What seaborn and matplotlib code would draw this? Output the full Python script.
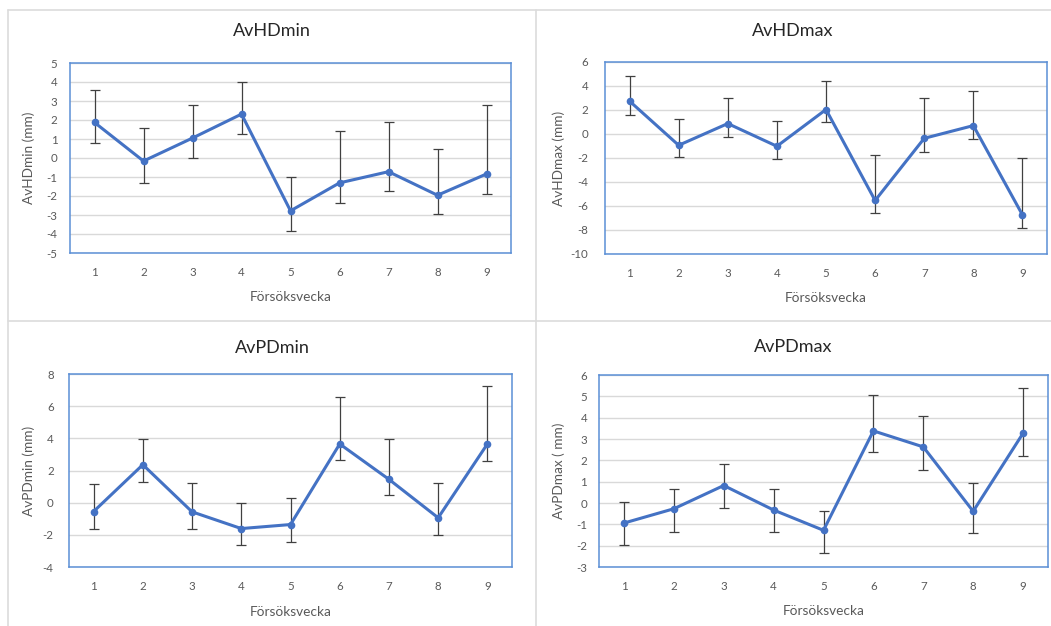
import numpy as np
import pandas as pd
import matplotlib
matplotlib.use("Agg")
import matplotlib.pyplot as plt
from matplotlib.lines import Line2D
import seaborn as sns

# Försöksvecka (trial week)
weeks = [1, 2, 3, 4, 5, 6, 7, 8, 9]

# AvHDmin: mean, upper and lower ends of the error bars (mm)
hdmin_mean = [1.87, -0.16, 1.05, 2.31, -2.78, -1.31, -0.72, -1.96, -0.84]
hdmin_hi = [3.57, 1.56, 2.80, 4.00, -1.00, 1.42, 1.87, 0.47, 2.81]
hdmin_lo = [0.77, -1.29, 0.02, 1.24, -3.83, -2.38, -1.75, -2.97, -1.90]

# AvHDmax
hdmax_mean = [2.74, -0.94, 0.87, -1.02, 2.04, -5.54, -0.36, 0.70, -6.74]
hdmax_hi = [4.83, 1.21, 2.96, 1.12, 4.44, -1.72, 2.96, 3.57, -1.97]
hdmax_lo = [1.60, -1.94, -0.27, -2.05, 0.98, -6.60, -1.47, -0.44, -7.85]

# AvPDmin
pdmin_mean = [-0.55, 2.36, -0.57, -1.61, -1.36, 3.65, 1.45, -0.94, 3.65]
pdmin_hi = [1.14, 3.94, 1.20, 0.01, 0.26, 6.60, 3.94, 1.20, 7.23]
pdmin_lo = [-1.63, 1.30, -1.63, -2.65, -2.44, 2.63, 0.47, -2.02, 2.57]

# AvPDmax
pdmax_mean = [-0.94, -0.27, 0.82, -0.33, -1.28, 3.38, 2.63, -0.39, 3.27]
pdmax_hi = [0.03, 0.67, 1.82, 0.65, -0.38, 5.06, 4.06, 0.93, 5.37]
pdmax_lo = [-1.95, -1.35, -0.24, -1.35, -2.36, 2.37, 1.55, -1.41, 2.22]

titles = ["AvHDmin", "AvHDmax", "AvPDmin", "AvPDmax"]
ylabels = ["AvHDmin (mm)", "AvHDmax (mm)", "AvPDmin (mm)", "AvPDmax ( mm)"]
xlabel = "Försöksvecka"

sns.set_theme(style="white")
plt.rcParams["font.family"] = ["Lato", "DejaVu Sans"]
plt.rcParams["axes.unicode_minus"] = False

W, H = 1051, 626
fig = plt.figure(figsize=(W / 100, H / 100), dpi=100)
fig.patch.set_facecolor("white")

LINE = "#4472C4"
BORDER = "#5B8FD6"
GRID = "#D9D9D9"
TXT = "#595959"
ERR = "#404040"

# panel specs: series, y range, y step, plot box in pixels (l, t, r, b),
# title position, y-label x position, y tick pad
panels = [
    (hdmin_mean, hdmin_hi, hdmin_lo, (-5, 5), 1, (70, 63, 511, 253), (272, 31), 35, 9),
    (hdmax_mean, hdmax_hi, hdmax_lo, (-10, 6), 2, (605, 62, 1047, 254), (793, 31), 565, 12),
    (pdmin_mean, pdmin_hi, pdmin_lo, (-4, 8), 2, (69, 374, 512, 567), (272, 348), 35, 11),
    (pdmax_mean, pdmax_hi, pdmax_lo, (-3, 6), 1, (599, 375, 1048, 567), (793, 347), 565, 8.5),
]

for i, (mean, hi, lo, (ymin, ymax), step, (l, t, r, b), (tx, ty), ylx, ypad) in enumerate(panels):
    ax = fig.add_axes([l / W, 1 - b / H, (r - l) / W, (b - t) / H])
    df = pd.DataFrame({"week": weeks, "value": mean})
    mean_a = np.array(mean)
    yerr = np.vstack([mean_a - np.array(lo), np.array(hi) - mean_a])
    ax.errorbar(df["week"], df["value"], yerr=yerr, fmt="none", ecolor=ERR,
                elinewidth=0.9, capsize=3.4, capthick=0.9, zorder=2)
    sns.lineplot(data=df, x="week", y="value", ax=ax, color=LINE, linewidth=2.2,
                 marker="o", markersize=5.5, markeredgewidth=0, zorder=3)
    ax.set_xlim(0.5, 9.5)
    ax.set_ylim(ymin, ymax)
    ax.set_xticks(weeks)
    ax.set_yticks(np.arange(ymin, ymax + step / 2, step))
    ax.yaxis.grid(True, color=GRID, linewidth=1.0)
    ax.xaxis.grid(False)
    ax.set_axisbelow(True)
    for sp in ax.spines.values():
        sp.set_color(BORDER)
        sp.set_linewidth(1.1)
        sp.set_visible(True)
    ax.tick_params(axis="both", length=0, labelsize=8.3, labelcolor=TXT)
    ax.tick_params(axis="x", pad=10)
    ax.tick_params(axis="y", pad=ypad)
    ax.set_xlabel(xlabel, fontsize=9.8, color=TXT)
    ax.set_ylabel(ylabels[i], fontsize=9.8, color=TXT)
    ax.xaxis.set_label_coords(0.5, -0.20)
    ax.yaxis.set_label_coords((ylx - l) / (r - l), 0.5)
    fig.text(tx / W, 1 - ty / H, titles[i], ha="center", va="center",
             fontsize=13, color="#262626")

# light frame lines between the four chart panels
frame = "#DCDCDC"
fig.add_artist(Line2D([8 / W, 1], [1 - 9.5 / H] * 2, color=frame, lw=1.2, transform=fig.transFigure))
fig.add_artist(Line2D([8 / W] * 2, [0, 1 - 9.5 / H], color=frame, lw=1.2, transform=fig.transFigure))
fig.add_artist(Line2D([536 / W] * 2, [0, 1 - 9.5 / H], color=frame, lw=1.2, transform=fig.transFigure))
fig.add_artist(Line2D([8 / W, 1], [1 - 320.5 / H] * 2, color=frame, lw=1.2, transform=fig.transFigure))

fig.savefig("out.png", dpi=100, facecolor="white")
